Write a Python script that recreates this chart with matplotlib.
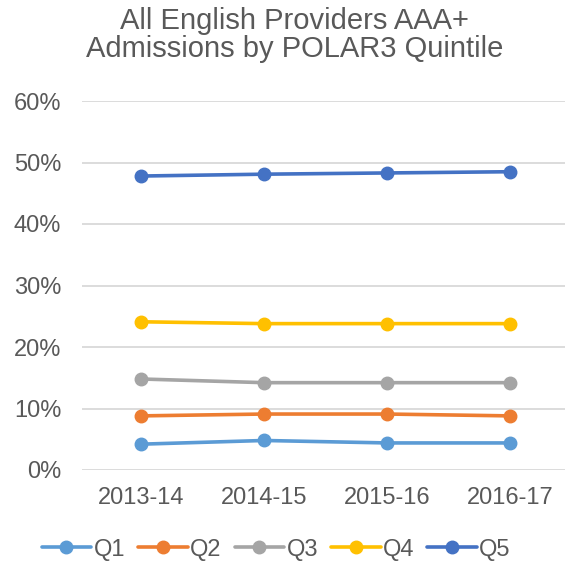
import matplotlib

matplotlib.use("Agg")
import matplotlib.pyplot as plt

plt.rcParams["font.family"] = ["Liberation Sans", "DejaVu Sans"]

years = ["2013-14", "2014-15", "2015-16", "2016-17"]
quintiles = ["Q1", "Q2", "Q3", "Q4", "Q5"]
q1 = [0.042, 0.048, 0.044, 0.044]
q2 = [0.088, 0.091, 0.091, 0.088]
q3 = [0.148, 0.142, 0.142, 0.142]
q4 = [0.241, 0.238, 0.238, 0.238]
q5 = [0.478, 0.481, 0.483, 0.485]
colors = ["#5B9BD5", "#ED7D31", "#A5A5A5", "#FFC000", "#4472C4"]

text_col = "#595959"

fig = plt.figure(figsize=(5.65, 5.65), dpi=100)
ax = fig.add_axes([82 / 565, 1 - 470 / 565, (565 - 82) / 565, (470 - 101) / 565])

x = range(len(years))
for name, vals, col in zip(quintiles, [q1, q2, q3, q4, q5], colors):
    ax.plot(x, vals, color=col, lw=2.6, marker="o", ms=9, label=name, solid_capstyle="round")

ax.set_xlim(-0.48, 3.447)
ax.set_ylim(0, 0.6)
ax.set_yticks([0, 0.1, 0.2, 0.3, 0.4, 0.5, 0.6])
ax.set_yticklabels(["0%", "10%", "20%", "30%", "40%", "50%", "60%"])
ax.set_xticks(list(x))
ax.set_xticklabels(years)
ax.tick_params(axis="both", length=0, labelsize=17, colors=text_col)
ax.tick_params(axis="y", pad=15)
ax.tick_params(axis="x", pad=12)
ax.grid(axis="y", color="#D9D9D9", lw=1.3)
ax.set_axisbelow(True)
for s in ax.spines.values():
    s.set_visible(False)

fig.text(0.522, 0.988, "All English Providers AAA+\nAdmissions by POLAR3 Quintile",
         ha="center", va="top", fontsize=21, color=text_col, linespacing=1.0)

fig.legend(loc="center", bbox_to_anchor=(0.489, 0.027), ncol=5, frameon=False,
           fontsize=17, labelcolor=text_col, handlelength=2.1, handletextpad=0.1,
           columnspacing=0.55)

fig.savefig("out.png", dpi=100)
